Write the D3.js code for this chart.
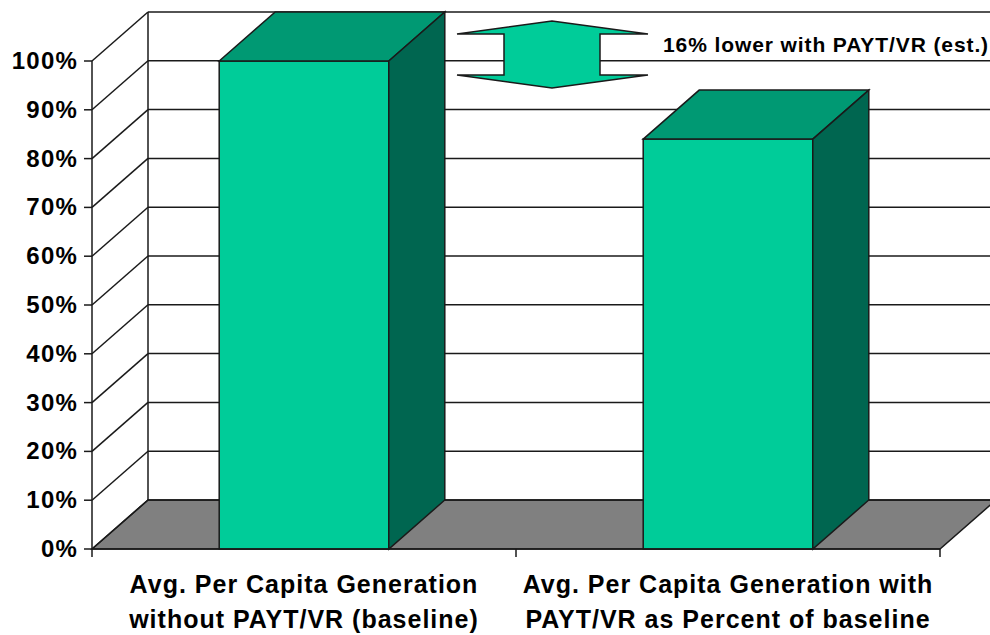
<!DOCTYPE html>
<html>
<head>
<meta charset="utf-8">
<script src="https://cdn.jsdelivr.net/npm/d3@7"></script>
<style>
  html, body { margin: 0; padding: 0; background: #fff; }
  svg { display: block; }
  text { font-family: "Liberation Sans", Arial, Helvetica, sans-serif; font-weight: bold; fill: #000; }
</style>
</head>
<body>
<script>
// ---- data ----
const categories = [
  ["Avg. Per Capita Generation", "without PAYT/VR (baseline)"],
  ["Avg. Per Capita Generation with", "PAYT/VR as Percent of baseline"]
];
const categoryKeys = ["baseline", "withPAYT"];
const values = [1.00, 0.84];
const tickValues = [0, 0.1, 0.2, 0.3, 0.4, 0.5, 0.6, 0.7, 0.8, 0.9, 1.0];
const annotationText = "16% lower with PAYT/VR (est.)";

// ---- layout ----
const W = 990, H = 635;
const depthX = 56, depthY = -49;

const svg = d3.select("body").append("svg").attr("width", W).attr("height", H);

const y = d3.scaleLinear().domain([0, 1]).range([549, 61]);
const x = d3.scaleBand().domain(categoryKeys).range([92, 940]).paddingInner(0.6).paddingOuter(0.3);
const bw = x.bandwidth();
const step = x.step();

const x0 = x.range()[0], x1 = x.range()[1];
const yb = y(0);
const line = d3.line();
const stroke = "#1a1a1a";

// back wall
svg.append("path")
  .attr("d", line([[x0 + depthX, y(1) + depthY], [x1 + depthX, y(1) + depthY], [x1 + depthX, yb + depthY], [x0 + depthX, yb + depthY]]) + "Z")
  .attr("fill", "#fff").attr("stroke", "none");
// side wall
svg.append("path")
  .attr("d", line([[x0, y(1)], [x0 + depthX, y(1) + depthY], [x0 + depthX, yb + depthY], [x0, yb]]) + "Z")
  .attr("fill", "#fff").attr("stroke", "none");
// floor
svg.append("path")
  .attr("d", line([[x0, yb], [x0 + depthX, yb + depthY], [x1 + depthX, yb + depthY], [x1, yb]]) + "Z")
  .attr("fill", "#808080").attr("stroke", stroke).attr("stroke-width", 1.5);

// gridlines: back wall horizontal and side wall diagonal
const grid = svg.append("g").attr("stroke", stroke).attr("stroke-width", 1.5).attr("fill", "none");
tickValues.forEach(t => {
  grid.append("line")
    .attr("x1", x0 + depthX).attr("x2", x1 + depthX)
    .attr("y1", y(t) + depthY).attr("y2", y(t) + depthY);
  grid.append("line")
    .attr("x1", x0).attr("y1", y(t))
    .attr("x2", x0 + depthX).attr("y2", y(t) + depthY);
});
// back wall left vertical edge
grid.append("line").attr("x1", x0 + depthX).attr("x2", x0 + depthX)
  .attr("y1", y(1) + depthY).attr("y2", yb + depthY);

// bars
const bars = svg.append("g").attr("stroke", stroke).attr("stroke-width", 1.5);
categoryKeys.forEach((k, i) => {
  const bx = x(k), top = y(values[i]);
  // front
  bars.append("path")
    .attr("d", line([[bx, yb], [bx, top], [bx + bw, top], [bx + bw, yb]]) + "Z")
    .attr("fill", "#00CC99");
  // top
  bars.append("path")
    .attr("d", line([[bx, top], [bx + depthX, top + depthY], [bx + bw + depthX, top + depthY], [bx + bw, top]]) + "Z")
    .attr("fill", "#009973");
  // side
  bars.append("path")
    .attr("d", line([[bx + bw, top], [bx + bw + depthX, top + depthY], [bx + bw + depthX, yb + depthY], [bx + bw, yb]]) + "Z")
    .attr("fill", "#006650");
});

// value axis
const ax = svg.append("g").attr("stroke", stroke).attr("stroke-width", 1.5);
ax.append("line").attr("x1", x0).attr("x2", x0).attr("y1", y(1)).attr("y2", yb);
tickValues.forEach(t => {
  ax.append("line").attr("x1", x0 - 8).attr("x2", x0).attr("y1", y(t)).attr("y2", y(t));
});
svg.append("g").selectAll("text").data(tickValues).join("text")
  .attr("x", x0 - 14).attr("y", d => y(d) + 8)
  .attr("text-anchor", "end")
  .attr("font-size", 24).attr("letter-spacing", 1.2)
  .text(d => d3.format(".0%")(d));

// category axis
ax.append("line").attr("x1", x0).attr("x2", x1).attr("y1", yb).attr("y2", yb);
const edges = [x0].concat(categoryKeys.map(k => x(k) + bw / 2 + step / 2));
edges.forEach(e => {
  ax.append("line").attr("x1", e).attr("x2", e).attr("y1", yb).attr("y2", yb + 8);
});
categoryKeys.forEach((k, i) => {
  const t = svg.append("text")
    .attr("x", x(k) + bw / 2).attr("text-anchor", "middle")
    .attr("font-size", 25).attr("letter-spacing", 1);
  categories[i].forEach((ln, j) => {
    t.append("tspan").attr("x", x(k) + bw / 2).attr("y", 593 + j * 35).text(ln);
  });
});

// annotation arrow (double-headed)
const acx = 552, acy = 54.5;
const arrowPts = [
  [-95, -20.5], [0, -33.5], [96, -20.5], [48, -20.5], [48, 20.5],
  [96, 20.5], [0, 33.5], [-95, 20.5], [-48, 20.5], [-48, -20.5]
].map(p => [acx + p[0], acy + p[1]]);
svg.append("path").attr("d", line(arrowPts) + "Z")
  .attr("fill", "#00CC99").attr("stroke", stroke).attr("stroke-width", 1.5);
svg.append("text").attr("x", 663).attr("y", 52)
  .attr("font-size", 21).attr("letter-spacing", 0.9)
  .text(annotationText);
</script>
</body>
</html>
